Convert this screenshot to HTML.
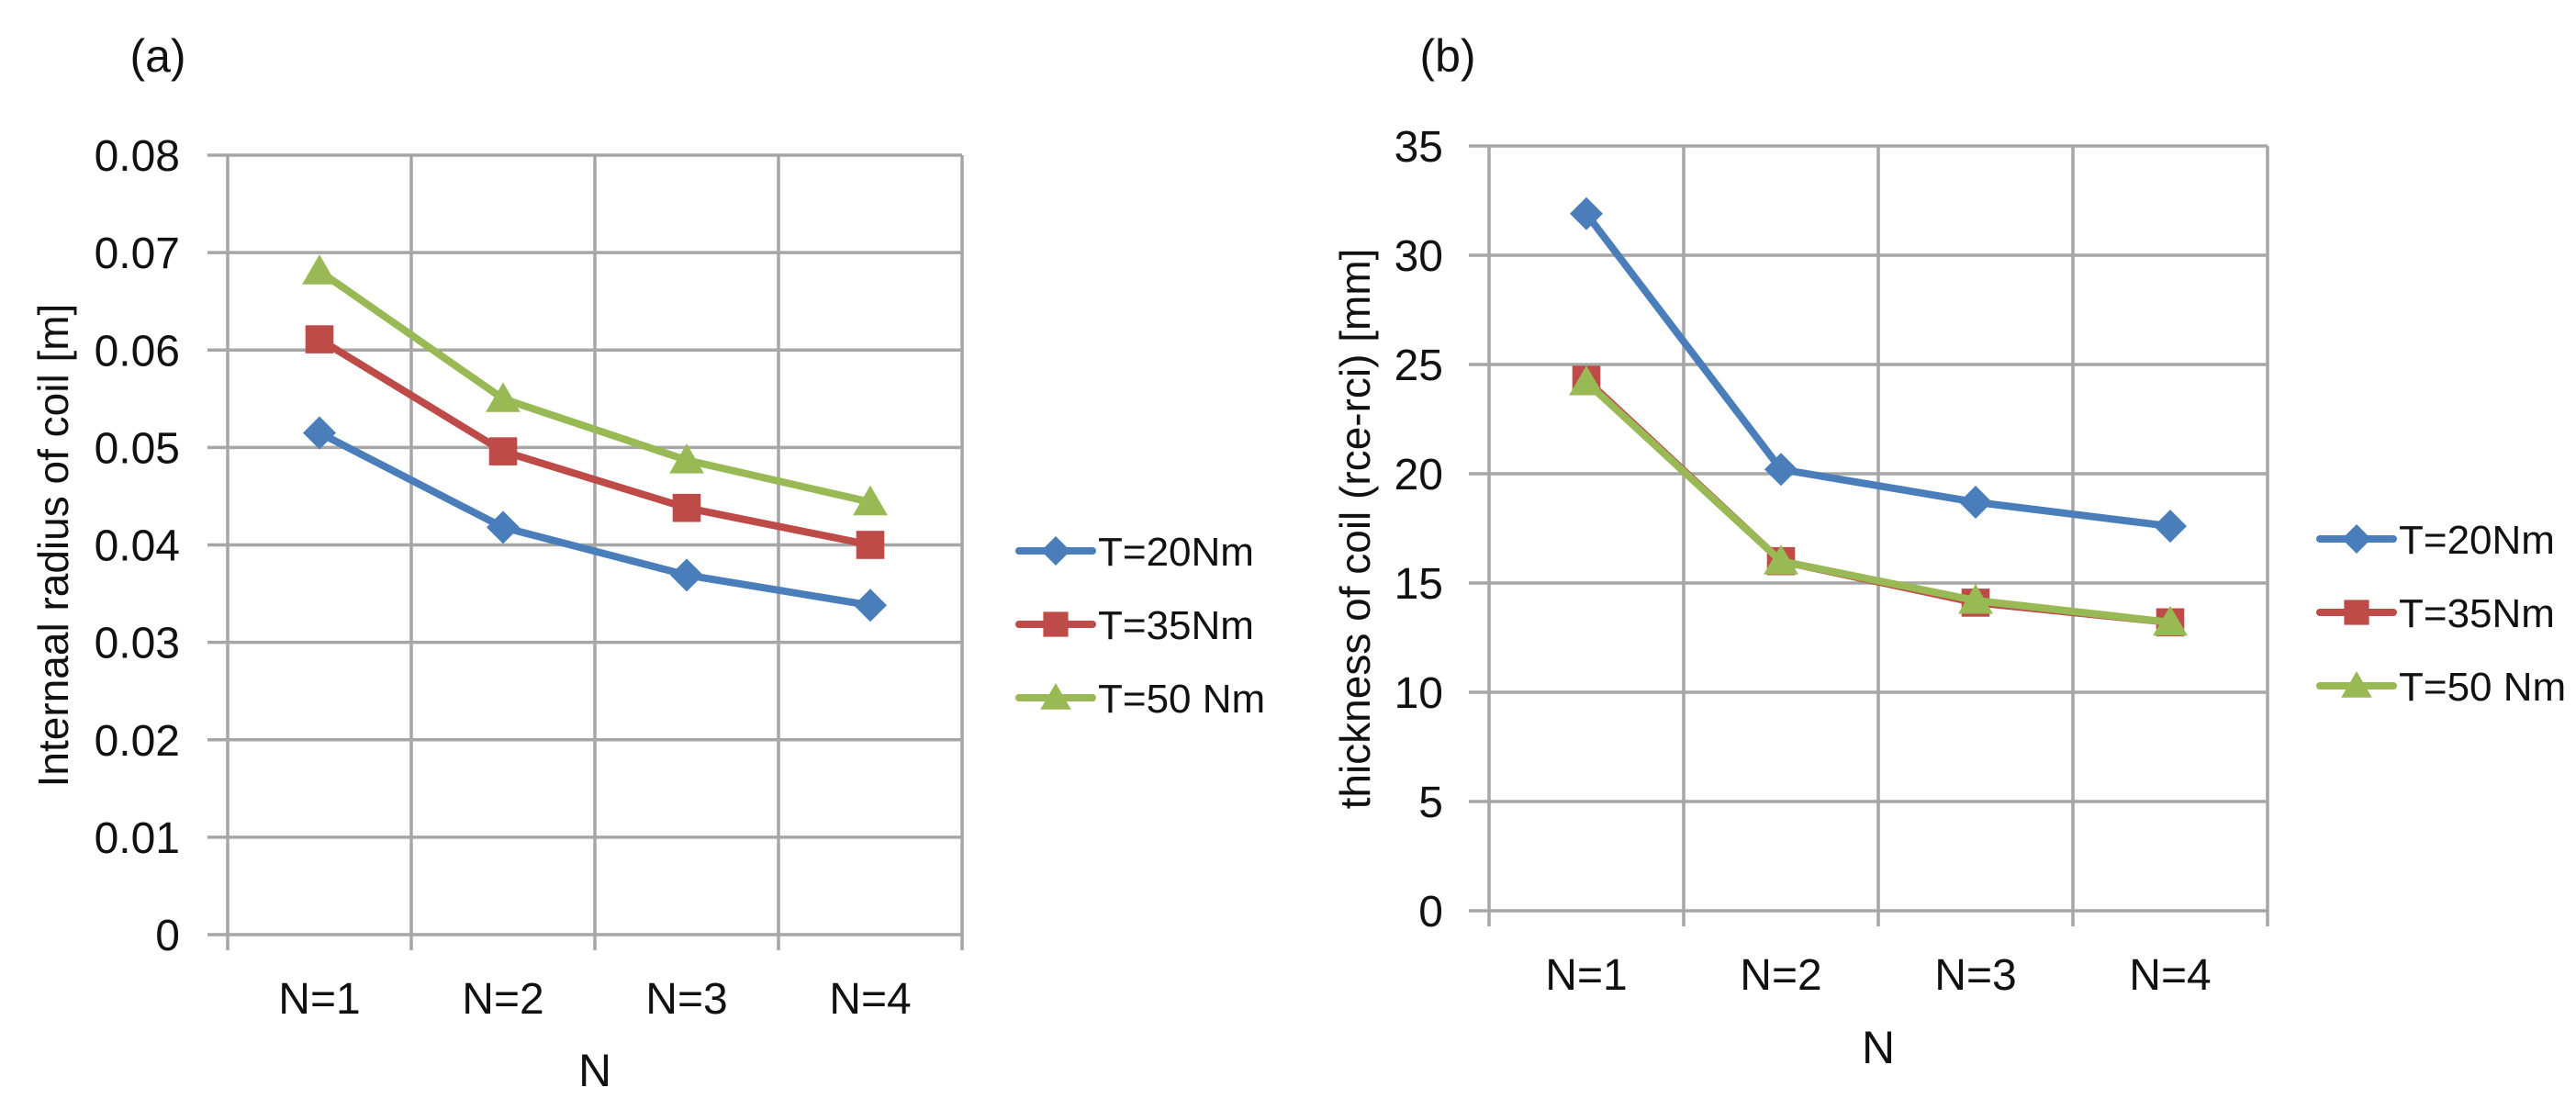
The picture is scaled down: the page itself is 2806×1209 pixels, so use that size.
<!DOCTYPE html>
<html><head><meta charset="utf-8"><style>
html,body{margin:0;padding:0;background:#fff;}
svg{display:block;font-family:"Liberation Sans",sans-serif;}
</style></head><body>
<svg id="fig" width="2806" height="1209" viewBox="0 0 2806 1209" xmlns="http://www.w3.org/2000/svg"></svg>
<script>
const categories = ["N=1","N=2","N=3","N=4"];
const seriesNames = ["T=20Nm","T=35Nm","T=50 Nm"];
const radius20 = [0.0515,0.0418,0.0369,0.0338];
const radius35 = [0.0611,0.0496,0.0438,0.0400];
const radius50 = [0.0681,0.0550,0.0487,0.0444];
const thick20 = [31.9,20.2,18.7,17.6];
const thick35 = [24.3,16.0,14.1,13.2];
const thick50 = [24.2,16.0,14.2,13.2];
const ticksA = ["0","0.01","0.02","0.03","0.04","0.05","0.06","0.07","0.08"];
const ticksB = ["0","5","10","15","20","25","30","35"];

const NS="http://www.w3.org/2000/svg";
const svg=document.getElementById('fig');
const colors=["#4a7ebb","#be4b48","#98b954"];
function mk(tag,attrs,parent){const e=document.createElementNS(NS,tag);for(const k in attrs)e.setAttribute(k,attrs[k]);(parent||svg).appendChild(e);return e;}

function marker(g,kind,x,y,color,s){
  let e;
  if(kind===0){e=mk('polygon',{points:`${x},${y-s} ${x+s},${y} ${x},${y+s} ${x-s},${y}`,fill:color},g);}
  else if(kind===1){e=mk('rect',{x:x-s*0.85,y:y-s*0.85,width:s*1.7,height:s*1.7,fill:color},g);}
  else {e=mk('polygon',{points:`${x},${y-s} ${x+s*1.05},${y+s*0.8} ${x-s*1.05},${y+s*0.8}`,fill:color},g);}
  return e;
}

function chart(cfg){
  const g=mk('g',{});
  
  
  const {L,R,T,B,ymax,ticks}=cfg;
  const ys=v=>B-(v/ymax)*(B-T);
  const cw=(R-L)/categories.length;
  const xs=i=>L+cw*(i+0.5);
  ticks.forEach((t,i)=>{
    const v=ymax*i/(ticks.length-1);const y=ys(v);
    const ln=mk('line',{x1:L-22,x2:R,y1:y,y2:y,stroke:"#a6a6a6","stroke-width":3.5},g);
    
    
    const tx=mk('text',{x:cfg.tickX,y:y+17,"text-anchor":"end","font-size":48,fill:"#111"},g);
    tx.textContent=t;
    
    
  });
  for(let i=0;i<=categories.length;i++){
    const x=L+cw*i;
    const ln=mk('line',{x1:x,x2:x,y1:T,y2:B+17,stroke:"#a6a6a6","stroke-width":3.5},g);
    
    
  }
  categories.forEach((c,i)=>{
    const tx=mk('text',{x:xs(i),y:B+86,"text-anchor":"middle","font-size":48,fill:"#111"},g);
    tx.textContent=c;
    
    
  });
  const xt=mk('text',{x:(L+R)/2,y:cfg.nY,"text-anchor":"middle","font-size":50,fill:"#111"},g);
  xt.textContent="N";
  
  
  const yt=mk('text',{x:0,y:0,"text-anchor":"middle","font-size":46,fill:"#111",transform:`translate(${cfg.ytX},${cfg.ytY}) rotate(-90)`},g);
  yt.textContent=cfg.ytitle;
  
  
  const pl=mk('text',{x:cfg.plX,y:78,"text-anchor":"middle","font-size":50,fill:"#111"},g);
  pl.textContent=cfg.label;
  
  
  cfg.series.forEach((arr,si)=>{
    const sg=mk('g',{},g);
    
    
    const pts=arr.map((v,i)=>xs(i)+','+ys(v)).join(' ');
    const pln=mk('polyline',{points:pts,fill:"none",stroke:colors[si],"stroke-width":8,"stroke-linejoin":"round"},sg);
    
    
    arr.forEach((v,i)=>{
      const m=marker(sg,si,xs(i),ys(v),colors[si],18);
      
      
    });
  });
  const lg=mk('g',{},g);
  
  
  seriesNames.forEach((n,si)=>{
    const y=cfg.legY+si*80;
    const eg=mk('g',{},lg);
    
    
    mk('line',{x1:cfg.legX,x2:cfg.legX+80,y1:y,y2:y,stroke:colors[si],"stroke-width":8,"stroke-linecap":"round"},eg);
    marker(eg,si,cfg.legX+40,y,colors[si],16);
    const t=mk('text',{x:cfg.legX+86,y:y+16,"font-size":44,fill:"#111"},eg);
    t.textContent=n;
  });
}

chart({name:'chart-a',L:248,R:1048,T:169,B:1018,ymax:0.08,ticks:ticksA,tickX:196,nY:1183,ytX:74,ytY:594,ytitle:"Internaal radius of coil [m]",label:"(a)",plX:172,
  series:[radius20,radius35,radius50],legX:1110,legY:600});
chart({name:'chart-b',L:1622,R:2470,T:159,B:992,ymax:35,ticks:ticksB,tickX:1572,nY:1158,ytX:1492,ytY:576,ytitle:"thickness of coil (rce-rci) [mm]",label:"(b)",plX:1577,
  series:[thick20,thick35,thick50],legX:2527,legY:587});
</script>
</body></html>
